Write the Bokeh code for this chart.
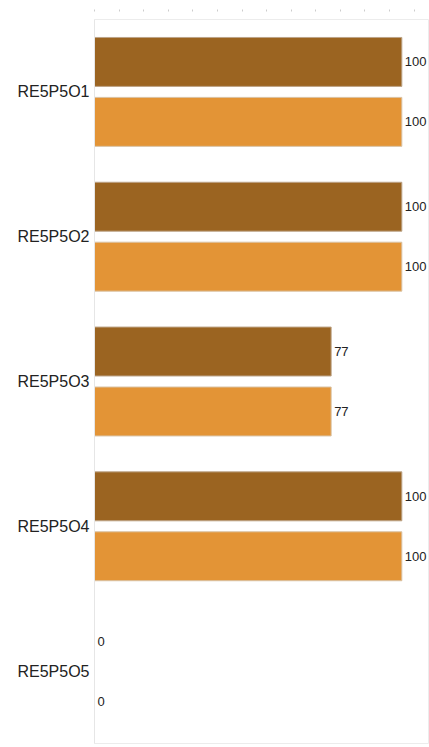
from bokeh.plotting import figure
from bokeh.models import ColumnDataSource, FactorRange, LinearAxis, FixedTicker, LabelSet
from bokeh.transform import dodge
from bokeh.core.properties import value
from bokeh.embed import file_html
from bokeh.resources import INLINE

categories = ["RE5P5O1", "RE5P5O2", "RE5P5O3", "RE5P5O4", "RE5P5O5"]
series_a = [100, 100, 77, 100, 0]
series_b = [100, 100, 77, 100, 0]
top_ticks = list(range(0, 105, 8))

src = ColumnDataSource(dict(
    cat=categories,
    a=series_a,
    b=series_b,
    a_lbl=[str(v) for v in series_a],
    b_lbl=[str(v) for v in series_b],
))

p = figure(
    width=429, height=747,
    y_range=FactorRange(factors=categories[::-1]),
    x_range=(0, 109),
    output_backend="svg", toolbar_location=None,
    x_axis_location=None,
    min_border_left=94, min_border_right=0, min_border_top=19, min_border_bottom=4,
)
p.outline_line_color = "#ececec"
p.xgrid.visible = False
p.ygrid.visible = False

p.hbar(y=dodge("cat", 0.207, range=p.y_range), right="a", left=0, height=0.338, source=src,
       fill_color="#9b6421", line_color="#bda488", line_width=1)
p.hbar(y=dodge("cat", -0.207, range=p.y_range), right="b", left=0, height=0.338, source=src,
       fill_color="#e39436", line_color="#d9c2a4", line_width=1)

for col, lbl, off in (("a", "a_lbl", 0.207), ("b", "b_lbl", -0.207)):
    p.add_layout(LabelSet(x=col, y=dodge("cat", off, range=p.y_range), text=lbl, source=src,
                          x_offset=3, text_baseline="middle", text_font=value("Liberation Sans"),
                          text_font_size=value("13px"), text_color="#222222"))

top = LinearAxis(ticker=FixedTicker(ticks=top_ticks))
top.axis_line_color = None
top.major_tick_in = -8
top.major_tick_out = 10
top.major_tick_line_color = "#cccccc"
top.minor_tick_line_color = None
top.major_label_text_font_size = "0px"
top.major_label_text_color = None
p.add_layout(top, "above")

ya = p.yaxis[0]
ya.axis_line_color = "#e6e6e6"
ya.major_tick_line_color = None
ya.major_tick_out = 0
ya.major_tick_in = 0
ya.minor_tick_line_color = None
ya.major_label_text_font = "Liberation Sans"
ya.major_label_text_font_size = "16px"
ya.major_label_text_color = "#222222"
ya.major_label_standoff = 5

open("out.html", "w").write(file_html(p, INLINE))
